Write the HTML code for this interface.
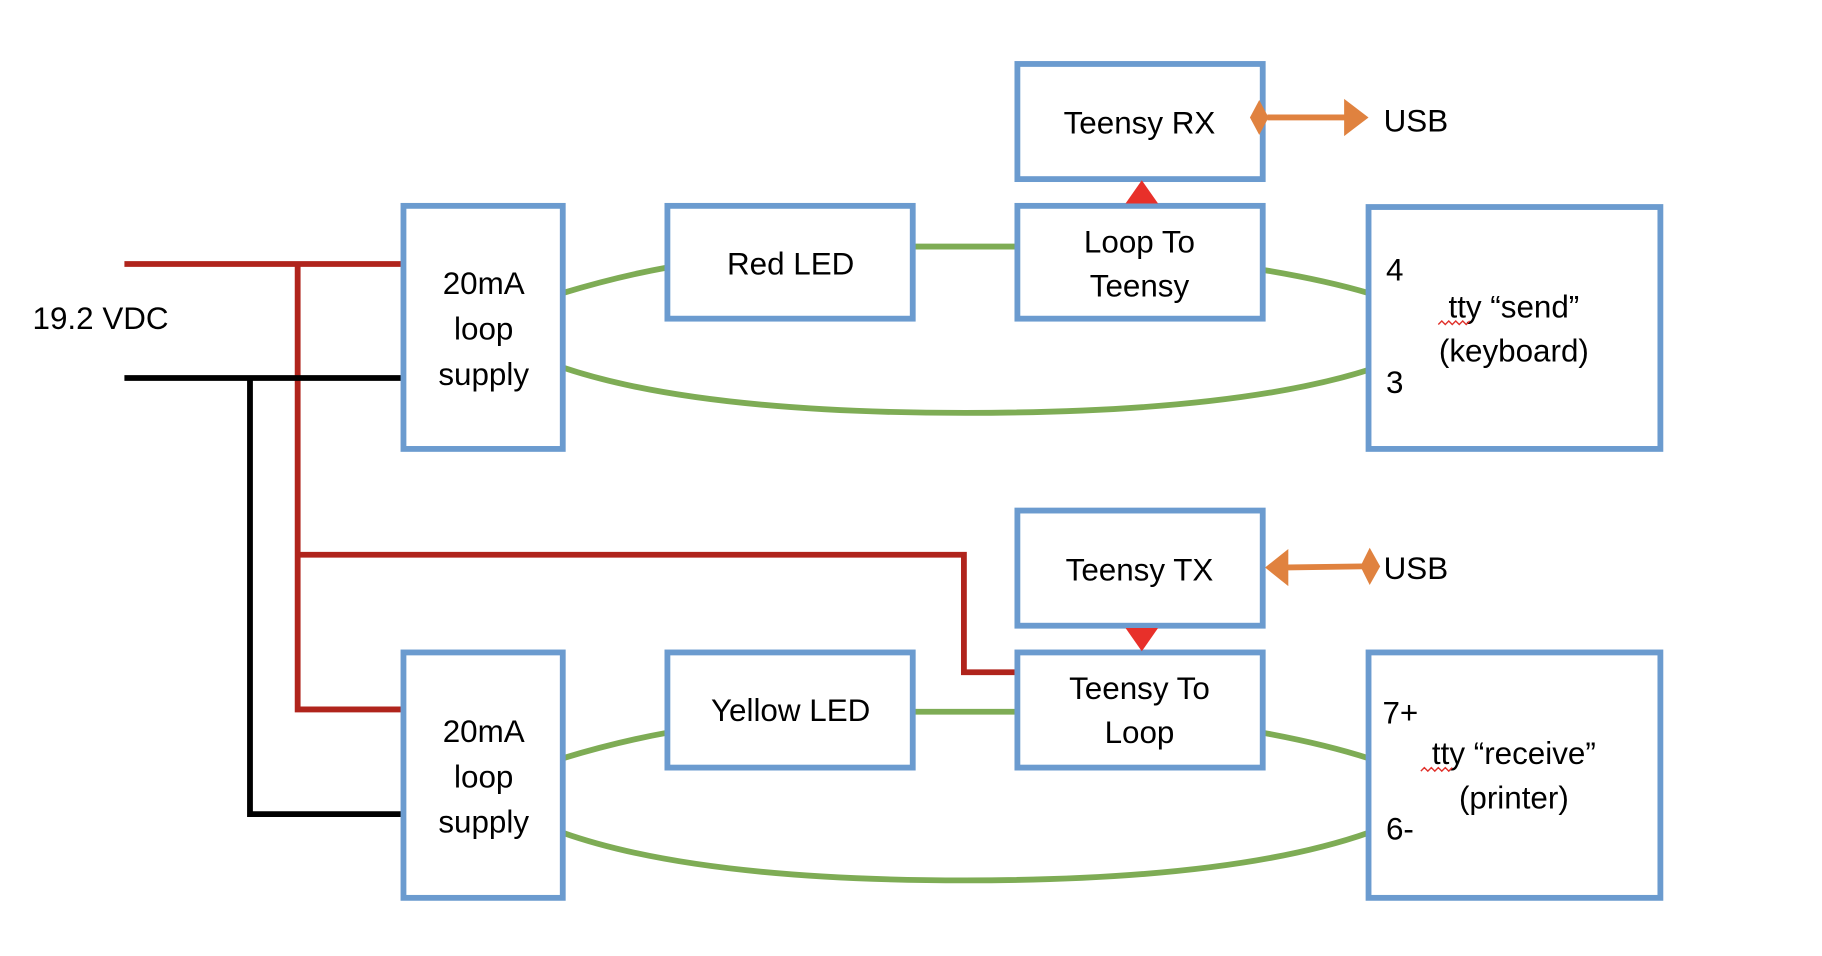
<!DOCTYPE html>
<html><head><style>html,body{margin:0;padding:0;background:#fff}svg{display:block}</style></head>
<body>
<svg width="1822" height="956" viewBox="0 0 1567 822" preserveAspectRatio="none" xmlns="http://www.w3.org/2000/svg" font-family="'Liberation Sans', sans-serif" font-size="27" fill="#000">
<rect width="1567" height="822" fill="#fff"/>
<g fill="none" stroke-width="5">
<g stroke="#7eac55">
<path d="M484,252 Q530,238 574,230"/>
<line x1="785" y1="212" x2="875" y2="212"/>
<path d="M1086,232 Q1140,241 1177,252"/>
<path d="M484,316 Q600,355 830,355 Q1060,355 1177,318"/>
<path d="M484,652 Q530,638 574,630"/>
<line x1="785" y1="612" x2="875" y2="612"/>
<path d="M1086,630 Q1140,640 1177,652"/>
<path d="M484,716 Q600,757 830,757 Q1060,757 1177,716"/>
</g>
<g stroke="#b0241c">
<polyline points="107,227 347,227"/>
<polyline points="256,227 256,610 347,610"/>
<polyline points="256,477 829,477 829,578 875,578"/>
</g>
<g stroke="#000">
<polyline points="107,325 349,325"/>
<polyline points="215,325 215,700 349,700"/>
</g>
<g stroke="#e0823f">
<line x1="1090" y1="101" x2="1160" y2="101"/>
<line x1="1100" y1="488" x2="1172" y2="487"/>
</g>
<g stroke="#6b9bcf">
<rect x="875" y="55" width="211" height="99"/>
<rect x="875" y="177" width="211" height="97"/>
<rect x="574" y="177" width="211" height="97"/>
<rect x="347" y="177" width="137" height="209"/>
<rect x="1177" y="178" width="251" height="208"/>
<rect x="875" y="439" width="211" height="99"/>
<rect x="875" y="561" width="211" height="99"/>
<rect x="574" y="561" width="211" height="99"/>
<rect x="347" y="561" width="137" height="211"/>
<rect x="1177" y="561" width="251" height="211"/>
</g>
</g>
<g fill="#e0823f">
<polygon points="1083,86 1091,101 1083,116 1075,101"/>
<polygon points="1156,85 1177,101 1156,117"/>
<polygon points="1088,488 1108,472 1108,504"/>
<polygon points="1178,471 1187,487 1178,503 1170,487"/>
</g>
<g fill="#e8302a">
<polygon points="982,155 996,175 968,175"/>
<polygon points="982,560 996,540 968,540"/>
</g>
<g text-anchor="middle">
<text x="980" y="115">Teensy RX</text>
<text x="980" y="217">Loop To</text>
<text x="980" y="255">Teensy</text>
<text x="680" y="236">Red LED</text>
<text x="416" y="253">20mA</text>
<text x="416" y="292">loop</text>
<text x="416" y="331">supply</text>
<text x="1302" y="273">tty “send”</text>
<text x="1302" y="311">(keyboard)</text>
<text x="980" y="499">Teensy TX</text>
<text x="980" y="601">Teensy To</text>
<text x="980" y="639">Loop</text>
<text x="680" y="620">Yellow LED</text>
<text x="416" y="638">20mA</text>
<text x="416" y="677">loop</text>
<text x="416" y="716">supply</text>
<text x="1302" y="657">tty “receive”</text>
<text x="1302" y="695">(printer)</text>
</g>
<text x="1190" y="113">USB</text>
<text x="1190" y="498">USB</text>
<text x="28" y="283">19.2 VDC</text>
<text x="1192" y="241">4</text>
<text x="1192" y="338">3</text>
<text x="1189" y="622">7+</text>
<text x="1192" y="722">6-</text>
<g stroke="#e0302a" stroke-width="1.2" fill="none">
<path d="M1237,279 l3,-3 3,3 3,-3 3,3 3,-3 3,3 3,-3 3,3 3,-3"/>
<path d="M1222,663 l3,-3 3,3 3,-3 3,3 3,-3 3,3 3,-3 3,3 3,-3"/>
</g>
</svg>
</body></html>
